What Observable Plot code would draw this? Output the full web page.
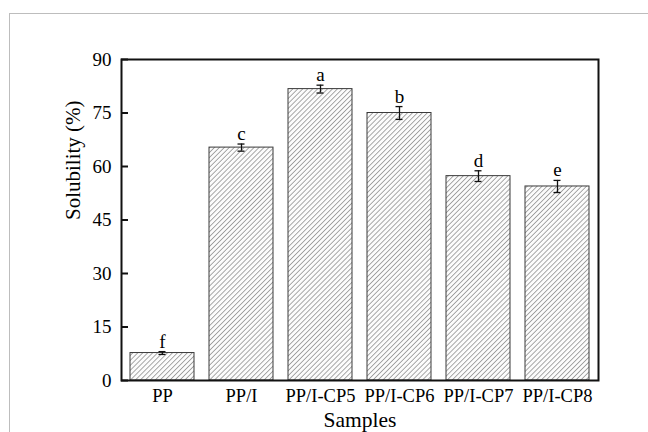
<!DOCTYPE html>
<html>
<head>
<meta charset="utf-8">
<script src="https://cdn.jsdelivr.net/npm/d3@7"></script>
<script src="https://cdn.jsdelivr.net/npm/@observablehq/plot@0.6"></script>
<style>
  html, body { margin: 0; padding: 0; background: #fff; }
  #wrap { position: relative; width: 648px; height: 432px; overflow: hidden; }
  #border { position: absolute; left: 9px; top: 13px; width: 700px; height: 500px; border: 1.5px solid #bdbdbd; box-sizing: border-box; }
  #chart { position: absolute; left: 0; top: 0; }
</style>
</head>
<body>
<div id="wrap"><div id="border"></div><div id="chart"></div></div>
<script>
const samples = ["PP", "PP/I", "PP/I-CP5", "PP/I-CP6", "PP/I-CP7", "PP/I-CP8"];
const solubility = [7.7, 65.3, 81.7, 75.0, 57.3, 54.4];
const errors = [0.4, 1.0, 1.1, 1.8, 1.5, 1.7];
const letters = ["f", "c", "a", "b", "d", "e"];
const yTicks = [0, 15, 30, 45, 60, 75, 90];

const data = samples.map((s, i) => ({
  sample: s, value: solubility[i], err: errors[i], letter: letters[i],
  lo: solubility[i] - errors[i], hi: solubility[i] + errors[i]
}));

const chart = Plot.plot({
  width: 648,
  height: 432,
  marginLeft: 121,
  marginRight: 50,
  marginTop: 59,
  marginBottom: 52,
  style: { fontFamily: "'Liberation Serif', 'Times New Roman', serif", fontSize: "18px", color: "#000", background: "transparent" },
  x: { domain: samples, paddingInner: 0.193, paddingOuter: 0.0965, label: null },
  y: { domain: [0, 90], label: null },
  marks: [
    Plot.barY(data, { x: "sample", y: "value", fill: "url(#hatch)", stroke: "#3a3a3a", strokeWidth: 1 }),
    Plot.ruleX(data, { x: "sample", y1: "lo", y2: "hi", stroke: "#111", strokeWidth: 1.3 }),
    Plot.tickY(data, { x: "sample", y: "lo", stroke: "#111", strokeWidth: 1.3, inset: 28.5 }),
    Plot.tickY(data, { x: "sample", y: "hi", stroke: "#111", strokeWidth: 1.3, inset: 28.5 }),
    Plot.text(data, { x: "sample", y: "hi", text: "letter", dy: -4, lineAnchor: "bottom", fontSize: 19, fill: "#000" }),
    Plot.axisY({ ticks: yTicks, tickSize: -7, tickPadding: 17, stroke: "#111", strokeWidth: 2, fontSize: 19, fill: "#000", label: null }),
    Plot.axisX({ tickSize: 0, tickPadding: 8, fontSize: 18.5, fill: "#000", label: null }),
    Plot.frame({ stroke: "#111", strokeWidth: 2 }),
    Plot.text(["Samples"], { frameAnchor: "bottom", dy: 46, fontSize: 21.5, fill: "#000" }),
    Plot.text(["Solubility (%)"], { frameAnchor: "left", rotate: -90, dx: -48, fontSize: 21, fill: "#000" })
  ]
});

const ns = "http://www.w3.org/2000/svg";
const defs = document.createElementNS(ns, "defs");
defs.innerHTML = `<pattern id="hatch" patternUnits="userSpaceOnUse" width="3.5" height="3.5" patternTransform="rotate(45)">
  <rect width="3.5" height="3.5" fill="#fcfcfc"></rect>
  <line x1="0" y1="0" x2="0" y2="3.5" stroke="#555" stroke-width="1"></line>
</pattern>`;
chart.insertBefore(defs, chart.firstChild);
document.getElementById("chart").appendChild(chart);
</script>
</body>
</html>
